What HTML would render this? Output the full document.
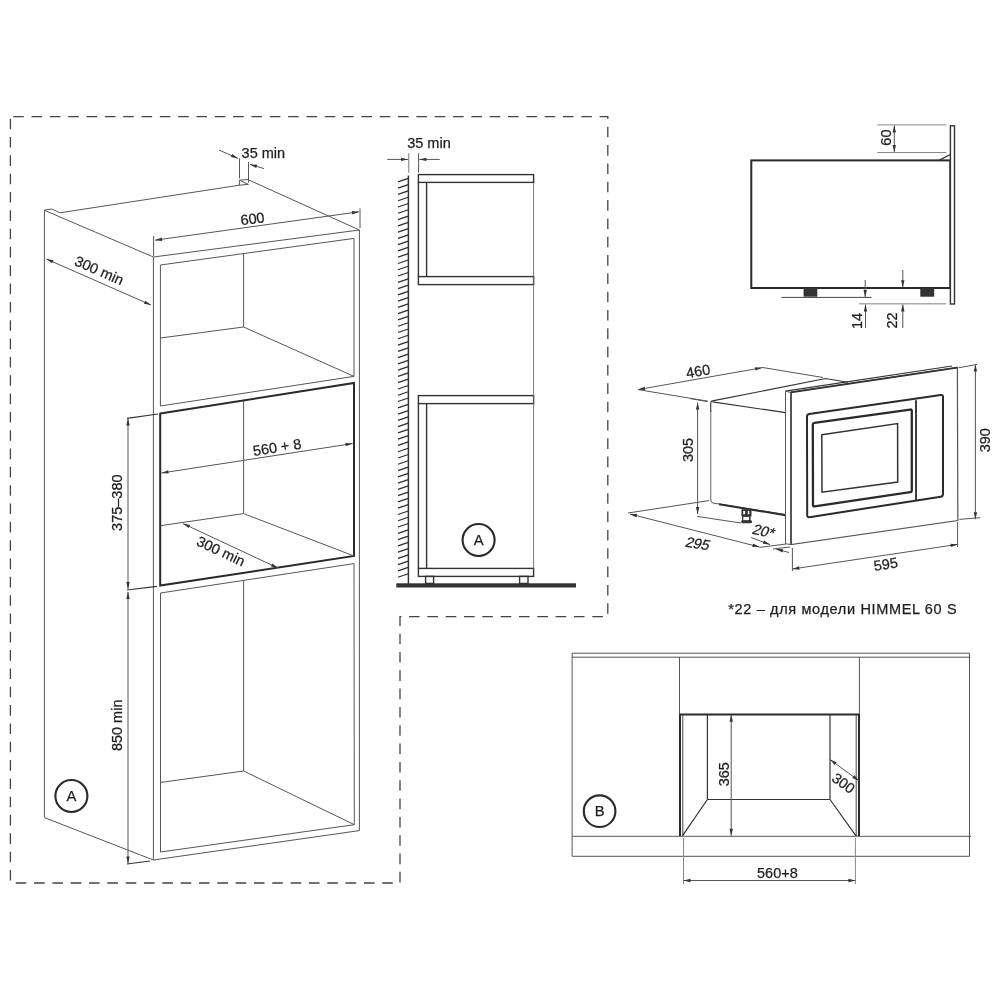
<!DOCTYPE html>
<html><head><meta charset="utf-8"><style>
html,body{margin:0;padding:0;background:#fff;}
svg{display:block;will-change:transform;}
text{font-family:"Liberation Sans",sans-serif;fill:#1e1e1e;stroke:#1e1e1e;stroke-width:0.25px;}
</style></head><body>
<svg width="1000" height="1000" viewBox="0 0 1000 1000" shape-rendering="geometricPrecision">
<path d="M10.4,116.6 H607.8 V616.6 H400 V883 H10.4 Z" fill="none" stroke="#444" stroke-width="1.3" stroke-dasharray="10.6 7.725" stroke-dashoffset="15.5"/>
<line x1="44.4" y1="210.2" x2="44.4" y2="817.6" stroke="#555" stroke-width="1"/>
<polyline points="44.2,210.2 51.6,209 60,212.8 239.4,185.2 248.4,184.3" fill="none" stroke="#555" stroke-width="1"/>
<polyline points="239.4,185.2 239.4,180.2 248.5,179.5" fill="none" stroke="#555" stroke-width="1"/>
<line x1="239.6" y1="180.3" x2="248.4" y2="184.4" stroke="#555" stroke-width="1"/>
<line x1="248.4" y1="179.8" x2="359.4" y2="230" stroke="#555" stroke-width="1"/>
<line x1="44.2" y1="210.2" x2="153.4" y2="257" stroke="#555" stroke-width="1"/>
<line x1="153.4" y1="257" x2="153.4" y2="860" stroke="#555" stroke-width="1"/>
<line x1="359.4" y1="230" x2="359.4" y2="830.6" stroke="#555" stroke-width="1"/>
<line x1="153.4" y1="257" x2="359.4" y2="230" stroke="#555" stroke-width="1"/>
<line x1="153.4" y1="860" x2="359.4" y2="830.6" stroke="#555" stroke-width="1"/>
<line x1="44.4" y1="817.6" x2="153.4" y2="860" stroke="#555" stroke-width="1"/>
<polygon points="160.4,265 354,238.4 354,376.4 160.4,406" fill="none" stroke="#555" stroke-width="1"/>
<line x1="243.6" y1="254" x2="243.6" y2="327" stroke="#555" stroke-width="1"/>
<line x1="160.4" y1="338" x2="243.6" y2="327" stroke="#555" stroke-width="1"/>
<line x1="243.6" y1="327" x2="354" y2="376.4" stroke="#555" stroke-width="1"/>
<polygon points="160.2,413.6 354,383 354,556 160.2,585.5" fill="none" stroke="#2a2a2a" stroke-width="2"/>
<line x1="243.6" y1="401" x2="243.6" y2="513.6" stroke="#555" stroke-width="1"/>
<line x1="161" y1="525.6" x2="243.6" y2="513.6" stroke="#555" stroke-width="1"/>
<line x1="243.6" y1="513.6" x2="354" y2="556" stroke="#555" stroke-width="1"/>
<polygon points="160.5,593 354,563.6 354.3,824.7 160.5,852" fill="none" stroke="#555" stroke-width="1"/>
<line x1="243.6" y1="581" x2="243.6" y2="771" stroke="#555" stroke-width="1"/>
<line x1="161" y1="782.4" x2="243.6" y2="771" stroke="#555" stroke-width="1"/>
<line x1="243.6" y1="771" x2="354.3" y2="824.7" stroke="#555" stroke-width="1"/>
<line x1="239.5" y1="158.4" x2="239.5" y2="178.4" stroke="#555" stroke-width="1"/>
<line x1="248.5" y1="162.2" x2="248.5" y2="182.6" stroke="#555" stroke-width="1"/>
<line x1="219" y1="150" x2="238" y2="158.4" stroke="#555" stroke-width="1"/>
<polygon points="238,158.4 230.91,157.12 232.29,154.01" fill="#333"/>
<line x1="264" y1="168.6" x2="250" y2="164.4" stroke="#555" stroke-width="1"/>
<polygon points="250,164.4 257.19,164.78 256.22,168.04" fill="#333"/>
<text x="241.6" y="158" font-size="14.5" text-anchor="start" >35 min</text>
<line x1="153.6" y1="236" x2="153.6" y2="256" stroke="#555" stroke-width="1"/>
<line x1="360" y1="208.4" x2="360" y2="228" stroke="#555" stroke-width="1"/>
<line x1="155" y1="240.2" x2="359" y2="211.8" stroke="#555" stroke-width="1"/>
<polygon points="155,240.2 161.7,237.55 162.17,240.92" fill="#333"/>
<polygon points="359,211.8 352.3,214.45 351.83,211.08" fill="#333"/>
<text transform="translate(252.4,218.5) rotate(-7.9)" x="0" y="0" dy="0.36em" font-size="14.5" text-anchor="middle" >600</text>
<line x1="46.4" y1="259" x2="151" y2="305" stroke="#555" stroke-width="1"/>
<polygon points="46.4,259 53.49,260.26 52.12,263.37" fill="#333"/>
<polygon points="151,305 143.91,303.74 145.28,300.63" fill="#333"/>
<text transform="translate(99.3,270.3) rotate(23.7)" x="0" y="0" dy="0.36em" font-size="14.5" text-anchor="middle" >300 min</text>
<line x1="127" y1="418.4" x2="158" y2="414" stroke="#333" stroke-width="1.2"/>
<line x1="127" y1="590" x2="157" y2="586.4" stroke="#333" stroke-width="1.2"/>
<line x1="128" y1="418.6" x2="128" y2="589" stroke="#555" stroke-width="1"/>
<polygon points="128,418.6 129.7,425.6 126.3,425.6" fill="#333"/>
<polygon points="128,589 126.3,582 129.7,582" fill="#333"/>
<text transform="translate(116.7,502.7) rotate(-90)" x="0" y="0" dy="0.36em" font-size="14.5" text-anchor="middle" >375–380</text>
<line x1="128" y1="592" x2="128" y2="863.5" stroke="#555" stroke-width="1"/>
<polygon points="128,592 129.7,599 126.3,599" fill="#333"/>
<polygon points="128,863.5 126.3,856.5 129.7,856.5" fill="#333"/>
<line x1="127" y1="864" x2="150" y2="861" stroke="#333" stroke-width="1.2"/>
<text transform="translate(117.1,725.3) rotate(-90)" x="0" y="0" dy="0.36em" font-size="14.5" text-anchor="middle" >850 min</text>
<line x1="161.5" y1="473" x2="352.5" y2="443.6" stroke="#555" stroke-width="1"/>
<polygon points="161.5,473 168.16,470.25 168.68,473.62" fill="#333"/>
<polygon points="352.5,443.6 345.84,446.35 345.32,442.98" fill="#333"/>
<text transform="translate(277,447) rotate(-8.8)" x="0" y="0" dy="0.36em" font-size="14.5" text-anchor="middle" >560 + 8</text>
<line x1="183" y1="523.6" x2="278" y2="568" stroke="#555" stroke-width="1"/>
<polygon points="183,523.6 190.06,525.02 188.62,528.1" fill="#333"/>
<polygon points="278,568 270.94,566.58 272.38,563.5" fill="#333"/>
<text transform="translate(221,551) rotate(25)" x="0" y="0" dy="0.36em" font-size="14.5" text-anchor="middle" >300 min</text>
<circle cx="71.4" cy="796" r="16" fill="none" stroke="#2a2a2a" stroke-width="2.1"/>
<text x="71.4" y="800.6" font-size="14.8" text-anchor="middle" >A</text>
<line x1="408.8" y1="153.2" x2="408.8" y2="172.8" stroke="#777" stroke-width="1"/>
<line x1="418.6" y1="153.2" x2="418.6" y2="172.8" stroke="#555" stroke-width="1"/>
<line x1="387.2" y1="159.4" x2="408" y2="159.4" stroke="#555" stroke-width="1"/>
<polygon points="408,159.4 401,161.1 401,157.7" fill="#333"/>
<line x1="439.8" y1="159.4" x2="419.4" y2="159.4" stroke="#555" stroke-width="1"/>
<polygon points="419.4,159.4 426.4,157.7 426.4,161.1" fill="#333"/>
<text x="407.2" y="148" font-size="14.5" text-anchor="start" >35 min</text>
<line x1="408.4" y1="175.4" x2="408.4" y2="584" stroke="#333" stroke-width="1.5"/>
<path d="M398,181.9 L408.3,178.4 M398,188.18 L408.3,184.68 M398,194.45 L408.3,190.95 M398,200.73 L408.3,197.23 M398,207 L408.3,203.5 M398,213.28 L408.3,209.78 M398,219.55 L408.3,216.05 M398,225.83 L408.3,222.33 M398,232.1 L408.3,228.6 M398,238.38 L408.3,234.88 M398,244.65 L408.3,241.15 M398,250.93 L408.3,247.43 M398,257.2 L408.3,253.7 M398,263.48 L408.3,259.98 M398,269.75 L408.3,266.25 M398,276.02 L408.3,272.52 M398,282.3 L408.3,278.8 M398,288.58 L408.3,285.08 M398,294.85 L408.3,291.35 M398,301.12 L408.3,297.62 M398,307.4 L408.3,303.9 M398,313.68 L408.3,310.18 M398,319.95 L408.3,316.45 M398,326.23 L408.3,322.73 M398,332.5 L408.3,329 M398,338.77 L408.3,335.27 M398,345.05 L408.3,341.55 M398,351.33 L408.3,347.83 M398,357.6 L408.3,354.1 M398,363.88 L408.3,360.38 M398,370.15 L408.3,366.65 M398,376.43 L408.3,372.93 M398,382.7 L408.3,379.2 M398,388.98 L408.3,385.48 M398,395.25 L408.3,391.75 M398,401.52 L408.3,398.02 M398,407.8 L408.3,404.3 M398,414.08 L408.3,410.58 M398,420.35 L408.3,416.85 M398,426.62 L408.3,423.12 M398,432.9 L408.3,429.4 M398,439.18 L408.3,435.68 M398,445.45 L408.3,441.95 M398,451.73 L408.3,448.23 M398,458 L408.3,454.5 M398,464.27 L408.3,460.77 M398,470.55 L408.3,467.05 M398,476.83 L408.3,473.33 M398,483.1 L408.3,479.6 M398,489.38 L408.3,485.88 M398,495.65 L408.3,492.15 M398,501.93 L408.3,498.43 M398,508.2 L408.3,504.7 M398,514.48 L408.3,510.98 M398,520.75 L408.3,517.25 M398,527.02 L408.3,523.52 M398,533.3 L408.3,529.8 M398,539.58 L408.3,536.08 M398,545.85 L408.3,542.35 M398,552.12 L408.3,548.62 M398,558.4 L408.3,554.9 M398,564.68 L408.3,561.18 M398,570.95 L408.3,567.45 M398,577.23 L408.3,573.73" stroke="#2e2e2e" stroke-width="1.25" fill="none"/>
<rect x="396.3" y="583.3" width="179.7" height="4.2" fill="#333"/>
<rect x="418.4" y="174.6" width="115.2" height="7.8" fill="none" stroke="#333" stroke-width="1.4"/>
<line x1="418.4" y1="182.4" x2="418.4" y2="276.6" stroke="#333" stroke-width="1.4"/>
<line x1="426.6" y1="182.4" x2="426.6" y2="276.6" stroke="#333" stroke-width="1.4"/>
<rect x="418.4" y="276.6" width="115.2" height="8" fill="none" stroke="#333" stroke-width="1.4"/>
<rect x="418.4" y="395.6" width="115.2" height="8" fill="none" stroke="#333" stroke-width="1.4"/>
<line x1="418.4" y1="403.6" x2="418.4" y2="568.4" stroke="#333" stroke-width="1.4"/>
<line x1="426.6" y1="403.6" x2="426.6" y2="568.4" stroke="#333" stroke-width="1.4"/>
<rect x="418.4" y="568.4" width="115.2" height="8" fill="none" stroke="#333" stroke-width="1.4"/>
<line x1="533.6" y1="182.4" x2="533.6" y2="568.4" stroke="#666" stroke-width="0.9"/>
<rect x="425.6" y="576.4" width="8" height="7" fill="none" stroke="#333" stroke-width="1.4"/>
<rect x="519.6" y="576.4" width="8.4" height="7" fill="none" stroke="#333" stroke-width="1.4"/>
<circle cx="478.6" cy="540" r="16" fill="none" stroke="#2a2a2a" stroke-width="2.1"/>
<text x="478.6" y="544.6" font-size="14.8" text-anchor="middle" >A</text>
<rect x="751.3" y="160.4" width="199" height="127.6" fill="#fff" stroke="#2a2a2a" stroke-width="2"/>
<rect x="950.4" y="125.8" width="4.1" height="178.2" fill="#fff" stroke="#333" stroke-width="1.4"/>
<line x1="939" y1="160.4" x2="950.3" y2="154.5" stroke="#333" stroke-width="1.4"/>
<line x1="877.3" y1="124.9" x2="946.4" y2="124.9" stroke="#888" stroke-width="1"/>
<line x1="877.3" y1="152.5" x2="946.4" y2="152.5" stroke="#888" stroke-width="1"/>
<line x1="894.3" y1="125.4" x2="894.3" y2="152" stroke="#555" stroke-width="1"/>
<polygon points="894.3,125.4 896,132.4 892.6,132.4" fill="#333"/>
<polygon points="894.3,152 892.6,145 896,145" fill="#333"/>
<text transform="translate(885.7,137.6) rotate(-90)" x="0" y="0" dy="0.36em" font-size="14.5" text-anchor="middle" >60</text>
<rect x="803.6" y="288" width="13.7" height="8.7" fill="#333"/>
<rect x="920.3" y="288" width="13.9" height="8.7" fill="#333"/>
<line x1="781.5" y1="297.4" x2="871.5" y2="297.4" stroke="#444" stroke-width="1"/>
<line x1="865.2" y1="280" x2="865.2" y2="297" stroke="#555" stroke-width="1"/>
<polygon points="865.2,297 863.5,290 866.9,290" fill="#333"/>
<line x1="865.5" y1="328" x2="865.5" y2="304.4" stroke="#555" stroke-width="1"/>
<polygon points="865.5,304.4 867.2,311.4 863.8,311.4" fill="#333"/>
<line x1="859" y1="303.8" x2="946" y2="303.8" stroke="#aaa" stroke-width="1.5"/>
<line x1="902.8" y1="270" x2="902.8" y2="287.2" stroke="#555" stroke-width="1"/>
<polygon points="902.8,287.2 901.1,280.2 904.5,280.2" fill="#333"/>
<line x1="902.8" y1="328" x2="902.8" y2="304.4" stroke="#555" stroke-width="1"/>
<polygon points="902.8,304.4 904.5,311.4 901.1,311.4" fill="#333"/>
<text transform="translate(856.5,321) rotate(-90)" x="0" y="0" dy="0.36em" font-size="14.5" text-anchor="middle" >14</text>
<text transform="translate(892,320.5) rotate(-90)" x="0" y="0" dy="0.36em" font-size="14.5" text-anchor="middle" >22</text>
<line x1="638" y1="389.6" x2="762.1" y2="367.7" stroke="#555" stroke-width="1"/>
<polygon points="638,389.6 644.6,386.71 645.19,390.06" fill="#333"/>
<polygon points="762.1,367.7 755.5,370.59 754.91,367.24" fill="#333"/>
<text transform="translate(698,371) rotate(-10)" x="0" y="0" dy="0.36em" font-size="14.5" text-anchor="middle" >460</text>
<line x1="638" y1="389.6" x2="708" y2="401.2" stroke="#555" stroke-width="1"/>
<line x1="762" y1="367.4" x2="823" y2="377.5" stroke="#555" stroke-width="1"/>
<path d="M710.75,412 V402.9 Q710.75,401.2 712.5,400.9 L825.5,378.5 L848,382.3" fill="none" stroke="#333" stroke-width="1.1"/>
<path d="M712.5,401.9 L785.5,412.6" fill="none" stroke="#333" stroke-width="1.1"/>
<line x1="710.75" y1="410" x2="710.75" y2="500.5" stroke="#666" stroke-width="1"/>
<path d="M710.75,500 Q710.75,502.6 713,503 L785.5,514.5" fill="none" stroke="#555" stroke-width="1"/>
<line x1="719" y1="504.3" x2="785.5" y2="515.2" stroke="#2e2e2e" stroke-width="2"/>
<rect x="741.5" y="509.2" width="10" height="7.2" fill="#333"/>
<rect x="743.2" y="510.9" width="1.9" height="3.4" fill="#fff"/>
<rect x="747.8" y="510.9" width="1.5" height="3.4" fill="#fff"/>
<rect x="742" y="516" width="8.6" height="5" fill="#333"/>
<rect x="743.3" y="516.9" width="5.8" height="3.7" fill="#fff"/>
<rect x="741.2" y="520.3" width="10.8" height="3" rx="1.3" fill="#333"/>
<line x1="697.6" y1="402.6" x2="697.6" y2="514" stroke="#555" stroke-width="1"/>
<polygon points="697.6,402.6 699.3,409.6 695.9,409.6" fill="#333"/>
<polygon points="697.6,514 695.9,507 699.3,507" fill="#333"/>
<text transform="translate(688,450) rotate(-90)" x="0" y="0" dy="0.36em" font-size="14.5" text-anchor="middle" >305</text>
<line x1="697" y1="516.4" x2="741" y2="523" stroke="#555" stroke-width="1"/>
<line x1="690" y1="398.5" x2="707.5" y2="401.6" stroke="#555" stroke-width="1"/>
<line x1="628" y1="513" x2="709" y2="500.6" stroke="#555" stroke-width="1"/>
<line x1="630" y1="514" x2="759.5" y2="547" stroke="#555" stroke-width="1"/>
<polygon points="630,514 637.2,514.08 636.36,517.38" fill="#333"/>
<polygon points="759.5,547 752.3,546.92 753.14,543.62" fill="#333"/>
<text transform="translate(698,543.5) rotate(9) skewX(-12)" x="0" y="0" dy="0.36em" font-size="14.5" text-anchor="middle" >295</text>
<line x1="759.5" y1="547.4" x2="786" y2="544" stroke="#555" stroke-width="1"/>
<line x1="751" y1="537.5" x2="770" y2="544.6" stroke="#555" stroke-width="1"/>
<polygon points="770,544.6 762.85,543.74 764.04,540.56" fill="#333"/>
<line x1="789" y1="552.5" x2="776" y2="549" stroke="#555" stroke-width="1"/>
<polygon points="776,549 783.2,549.18 782.32,552.46" fill="#333"/>
<line x1="773" y1="549" x2="790" y2="547" stroke="#555" stroke-width="1"/>
<text transform="translate(764,531) rotate(12) skewX(-12)" x="0" y="0" dy="0.36em" font-size="14.5" text-anchor="middle" >20*</text>
<polygon points="791,392 957.4,367.4 957.8,520.5 791,544.5" fill="none" stroke="#555" stroke-width="1.2"/>
<line x1="785.5" y1="391.2" x2="785.5" y2="543.8" stroke="#555" stroke-width="1"/>
<line x1="791" y1="392" x2="791" y2="544.5" stroke="#444" stroke-width="1.6"/>
<line x1="785.5" y1="391.2" x2="952" y2="366" stroke="#333" stroke-width="1.2"/>
<line x1="785.5" y1="391.2" x2="791" y2="392.5" stroke="#555" stroke-width="1"/>
<line x1="791" y1="392.4" x2="957.4" y2="367.6" stroke="#333" stroke-width="1.6"/>
<line x1="785.5" y1="543.8" x2="791" y2="544.5" stroke="#555" stroke-width="1"/>
<path d="M807,416.6 Q807,414.4 809.18,414.08 L940.82,394.92 Q943,394.6 943,396.8 L943,494.1 Q943,496.3 940.83,496.64 L809.37,517.16 Q807.2,517.5 807.2,515.3 Z" fill="none" stroke="#2a2a2a" stroke-width="2"/>
<line x1="916" y1="400.2" x2="916" y2="500.7" stroke="#2a2a2a" stroke-width="1.8"/>
<path d="M812.8,424.7 Q812.8,423.1 814.38,422.88 L910.22,409.52 Q911.8,409.3 911.8,410.9 L911.8,490.4 Q911.8,492 910.22,492.23 L814.58,506.27 Q813,506.5 813,504.9 Z" fill="none" stroke="#2a2a2a" stroke-width="2.3"/>
<path d="M821.8,434.7 L897.6,423.6 L897.7,482 L822,492.2 Z" fill="none" stroke="#333" stroke-width="1.5"/>
<line x1="975.4" y1="364.6" x2="975.4" y2="519.2" stroke="#555" stroke-width="1"/>
<polygon points="975.4,364.6 977.1,371.6 973.7,371.6" fill="#333"/>
<polygon points="975.4,519.2 973.7,512.2 977.1,512.2" fill="#333"/>
<line x1="958.6" y1="367.8" x2="977" y2="364.4" stroke="#555" stroke-width="1"/>
<line x1="959.3" y1="519.4" x2="980.2" y2="517.7" stroke="#555" stroke-width="1"/>
<text transform="translate(984.6,440.2) rotate(-90)" x="0" y="0" dy="0.36em" font-size="14.5" text-anchor="middle" >390</text>
<line x1="792.4" y1="548" x2="792.4" y2="571" stroke="#555" stroke-width="1"/>
<line x1="957.6" y1="522" x2="957.6" y2="547" stroke="#555" stroke-width="1"/>
<line x1="792.4" y1="569" x2="957.6" y2="544.4" stroke="#555" stroke-width="1"/>
<polygon points="792.4,569 799.07,566.29 799.57,569.65" fill="#333"/>
<polygon points="957.6,544.4 950.93,547.11 950.43,543.75" fill="#333"/>
<text transform="translate(885.8,564) rotate(-8.5)" x="0" y="0" dy="0.36em" font-size="14.5" text-anchor="middle" >595</text>
<text x="728.3" y="613.9" font-size="14.5" text-anchor="start" letter-spacing="0.65">*22 – для модели HIMMEL 60 S</text>
<line x1="572.1" y1="653.2" x2="969.5" y2="653.2" stroke="#555" stroke-width="1"/>
<line x1="572.1" y1="657.2" x2="969.5" y2="657.2" stroke="#555" stroke-width="1"/>
<line x1="572.1" y1="653.2" x2="572.1" y2="856.3" stroke="#555" stroke-width="1"/>
<line x1="969.5" y1="653.2" x2="969.5" y2="856.3" stroke="#555" stroke-width="1"/>
<line x1="572.1" y1="836.3" x2="971" y2="836.3" stroke="#555" stroke-width="1"/>
<line x1="572.1" y1="856.3" x2="969.5" y2="856.3" stroke="#555" stroke-width="1"/>
<line x1="679.5" y1="657.2" x2="679.5" y2="713.7" stroke="#555" stroke-width="1"/>
<line x1="859.4" y1="657.2" x2="859.4" y2="713.7" stroke="#555" stroke-width="1"/>
<polyline points="680,836 680,714.4 859,714.4 859,836" fill="none" stroke="#2a2a2a" stroke-width="2"/>
<line x1="682.8" y1="715" x2="682.8" y2="836" stroke="#444" stroke-width="1"/>
<line x1="856.2" y1="715" x2="856.2" y2="836" stroke="#444" stroke-width="1"/>
<line x1="707.4" y1="714.4" x2="707.4" y2="799.5" stroke="#333" stroke-width="1.2"/>
<line x1="830" y1="714.4" x2="830" y2="799.5" stroke="#333" stroke-width="1.2"/>
<line x1="707.4" y1="799.5" x2="830" y2="799.5" stroke="#333" stroke-width="1.2"/>
<line x1="707.4" y1="799.5" x2="682.4" y2="835.8" stroke="#333" stroke-width="1.2"/>
<line x1="830" y1="799.5" x2="856" y2="835.8" stroke="#333" stroke-width="1.2"/>
<line x1="731.2" y1="714.8" x2="731.2" y2="835.8" stroke="#555" stroke-width="1"/>
<polygon points="731.2,714.8 732.9,721.8 729.5,721.8" fill="#333"/>
<polygon points="731.2,835.8 729.5,828.8 732.9,828.8" fill="#333"/>
<text transform="translate(724,774.2) rotate(-90)" x="0" y="0" dy="0.36em" font-size="14.5" text-anchor="middle" >365</text>
<line x1="830" y1="759.5" x2="859" y2="780.8" stroke="#555" stroke-width="1"/>
<polygon points="830,759.5 836.65,762.27 834.64,765.01" fill="#333"/>
<polygon points="859,780.8 852.35,778.03 854.36,775.29" fill="#333"/>
<text transform="translate(843.6,783) rotate(36)" x="0" y="0" dy="0.36em" font-size="14.5" text-anchor="middle" >300</text>
<circle cx="599.6" cy="811.2" r="15.8" fill="none" stroke="#2a2a2a" stroke-width="2.1"/>
<text x="599.6" y="815.8" font-size="14.8" text-anchor="middle" >B</text>
<line x1="683.5" y1="838" x2="683.5" y2="884" stroke="#888" stroke-width="1"/>
<line x1="855.4" y1="838" x2="855.4" y2="884" stroke="#888" stroke-width="1"/>
<line x1="683.5" y1="880.5" x2="855.4" y2="880.5" stroke="#555" stroke-width="1"/>
<polygon points="683.5,880.5 690.5,878.8 690.5,882.2" fill="#333"/>
<polygon points="855.4,880.5 848.4,882.2 848.4,878.8" fill="#333"/>
<text x="777.4" y="878.3" font-size="14.5" text-anchor="middle" >560+8</text>
</svg>
</body></html>
